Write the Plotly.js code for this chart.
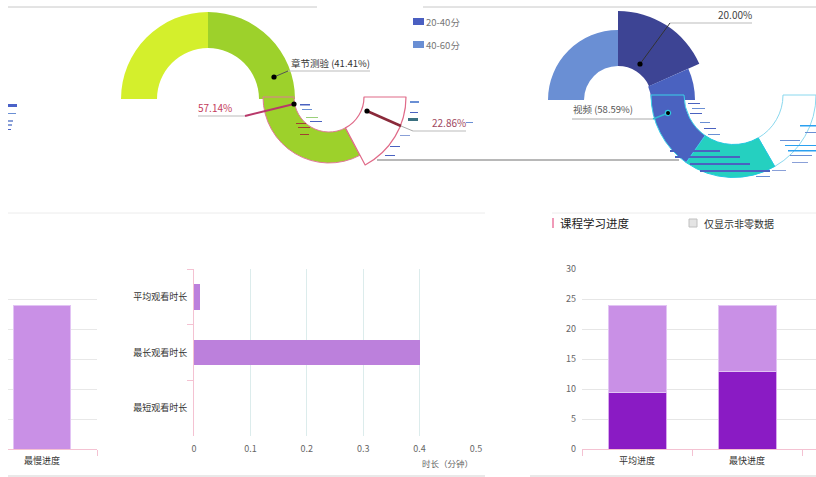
<!DOCTYPE html>
<html><head><meta charset="utf-8">
<script src="https://cdn.plot.ly/plotly-3.0.1.min.js"></script>
<style>html,body{margin:0;padding:0;background:#fff}#chart{width:816px;height:477px}</style>
</head><body><div id="chart"></div>
<script>
// ---------- data ----------
const progressCats = ['平均进度', '最快进度', '最慢进度'];
const progressDone = [9.5, 13, 0];
const progressRest = [14.5, 11, 24];
const watchCats = ['平均观看时长', '最长观看时长', '最短观看时长'];
const watchMinutes = [0.01, 0.4, 0];
// donut pieces (degrees of the ring each slice occupies; filler slices are transparent)
const donutTopLeft = [90, 90, 180];        // yellow-green, green, (empty)
const donutLowGreen = [118, 242];          // green, (empty)
const donutLowWhite = [62, 298];           // highlighted white slice, (empty)
const donutRightLight = [90, 270];         // 40-60分
const donutRightNavy = [66, 294];          // 20.00%
const donutRightBlue = [24, 336];          // 20-40分 upper part
const donutRightLow = [60, 65, 55, 180];   // white, teal, blue, (empty)
const legendLabels = ['20-40分', '40-60分'];

// ---------- helpers ----------
const W = 816, H = 477;
const px = x => x / W, py = y => 1 - y / H;
const dom = (cx, cy, r) => ({x: [px(cx - r), px(cx + r)], y: [py(cy + r), py(cy - r)]});
const T = 'rgba(0,0,0,0)';
function pie(values, colors, lines, cx, cy, r, inner, rot, lw) {
  return {type: 'pie', values: values, sort: false, direction: 'clockwise', rotation: rot,
    hole: inner / r, domain: dom(cx, cy, r), textinfo: 'none', hoverinfo: 'skip', showlegend: false,
    marker: {colors: colors, line: {color: lines, width: lw || 0}}};
}
const FONT = 'Noto Sans CJK SC, sans-serif';

const traces = [
  pie(donutTopLeft, ['#d4ef2c', '#9dd12b', T], [T, T, T], 208, 99, 87, 51, 270),
  pie(donutLowGreen, ['#9dd12b', T], ['#e07a98', T], 329, 97, 66, 35, 152, 1),
  pie(donutLowWhite, ['#ffffff', T], ['#e06a88', T], 329, 97, 77, 35, 90, 1.2),
  pie(donutRightLight, ['#6a8fd4', T], [T, T], 618, 100, 70, 34, 270),
  pie(donutRightNavy, ['#3d4494', T], [T, T], 618, 100, 89, 34, 0),
  pie(donutRightBlue, ['#4a62c0', T], [T, T], 618, 100, 77, 33, 66),
  pie(donutRightLow, ['#ffffff', '#25d0c0', '#4a62c0', T], ['#8ad8ee', '#22c8e0', '#3ad0e8', T], 736, 95, 85, 51, 90, 1),
  // left panel (wrapped third category)
  {type: 'bar', x: progressCats, y: progressDone, xaxis: 'x', yaxis: 'y', width: 0.527,
   marker: {color: '#8a1bc4', line: {color: '#d9a8ee', width: 1}}, hoverinfo: 'skip', showlegend: false},
  {type: 'bar', x: progressCats, y: progressRest, xaxis: 'x', yaxis: 'y', width: 0.527,
   marker: {color: '#c990e6', line: {color: '#e2c4f4', width: 1}}, hoverinfo: 'skip', showlegend: false},
  // middle horizontal bars
  {type: 'bar', orientation: 'h', y: watchCats, x: watchMinutes, xaxis: 'x2', yaxis: 'y2', width: 0.46,
   marker: {color: '#bc80dc', line: {width: 0}}, hoverinfo: 'skip', showlegend: false},
  // right stacked bars
  {type: 'bar', x: progressCats, y: progressDone, xaxis: 'x3', yaxis: 'y3', width: 0.527,
   marker: {color: '#8a1bc4', line: {color: '#d9a8ee', width: 1}}, hoverinfo: 'skip', showlegend: false},
  {type: 'bar', x: progressCats, y: progressRest, xaxis: 'x3', yaxis: 'y3', width: 0.527,
   marker: {color: '#c990e6', line: {color: '#e2c4f4', width: 1}}, hoverinfo: 'skip', showlegend: false}
];

function line(x0, y0, x1, y1, color, width) {
  return {type: 'line', xref: 'paper', yref: 'paper', x0: px(x0), y0: py(y0), x1: px(x1), y1: py(y1),
    line: {color: color, width: width || 1}, layer: 'above'};
}
function rect(x0, y0, x1, y1, fill, lc) {
  return {type: 'rect', xref: 'paper', yref: 'paper', x0: px(x0), y0: py(y0), x1: px(x1), y1: py(y1),
    fillcolor: fill, line: {color: lc || fill, width: lc ? 1 : 0}, layer: 'above'};
}
function dot(x, y, c, lc) {
  return {type: 'circle', xref: 'paper', yref: 'paper', x0: px(x - 2.6), y0: py(y + 2.6), x1: px(x + 2.6), y1: py(y - 2.6),
    fillcolor: c || '#000', line: {color: lc || '#000', width: lc ? 1.2 : 0}, layer: 'above'};
}

const shapes = [
  line(8, 7, 317, 7, '#c8c8c8'), line(423, 7, 816, 7, '#c8c8c8'),
  line(8, 213, 485, 213, '#ececec'), line(552, 213, 816, 213, '#ececec'),
  line(8, 476, 485, 476, '#e2e2e2', 1.5), line(530, 476, 816, 476, '#e2e2e2', 1.5),
  line(377, 160, 679, 160, '#a0a0a0', 1.5),
  // label leaders
  line(274, 77, 288, 71, '#555'), line(288, 71, 370, 71, '#bbbbbb'), dot(274, 77),
  line(198, 116, 245, 116, '#bbbbbb'), line(245, 116, 294, 104, '#b8386a', 2), dot(294, 104),
  line(367, 111, 401, 126, '#8a2a3a', 2.5), line(401, 126, 413, 131, '#aaaaaa'), line(413, 131, 466, 131, '#bbbbbb'), dot(367, 111),
  line(640, 64, 670, 23, '#333'), line(670, 23, 752, 23, '#bbbbbb'), dot(640, 64),
  line(572, 119, 653, 119, '#aaaaaa'), line(653, 119, 668, 113, '#30b8d0', 1.5), dot(668, 113, '#000', '#30c8e0'),
  // legends
  rect(413, 18, 424, 25, '#4a5fc1'), rect(413, 41, 424, 48, '#6a8fd4'),
  rect(552, 218, 554, 228, '#f09ab8'),
  rect(689, 219, 697, 227, '#e4e4e4', '#c0c0c0'),
  // rendering streak artefacts
  rect(8, 104, 17, 107, '#4a62c8'), rect(8, 113, 16, 114, '#6a8fd4'), rect(8, 120, 13, 122, '#8aa0d8'), rect(8, 124, 12, 126, '#8aa0d8'), rect(8, 129, 11, 130, '#4a62c8'),
  rect(300, 104, 310, 105.5, '#4a62c0'), rect(302, 109, 312, 110, '#6a8fd4'), rect(306, 117, 318, 118, '#9ad07a'), rect(310, 121, 322, 122, '#4a62c0'),
  rect(296, 123, 306, 124, '#a04030'), rect(298, 127, 310, 128, '#a04030'), rect(300, 134, 309, 135, '#a04030'),
  rect(410, 101, 419, 103, '#6a8fd4'), rect(410, 112, 418, 113, '#4a62c0'), rect(408, 118, 418, 121, '#3a7080'),
  rect(400, 135, 410, 136, '#8aa0d8'), rect(390, 146, 400, 147, '#4a62c0'), rect(385, 155, 395, 156, '#4a62c0'), rect(466, 122, 473, 123, '#6a8fd4'),
  rect(688, 103, 700, 104, '#4a62c0'), rect(692, 108, 705, 109, '#6a8fd4'), rect(690, 113, 702, 114, '#4a62c0'),
  rect(700, 122, 710, 123, '#6a8fd4'), rect(704, 128, 716, 129, '#4a62c0'), rect(708, 134, 720, 135, '#6a8fd4'),
  rect(670, 150, 720, 152, '#4a62c0'), rect(675, 156, 740, 158, '#4a62c0'), rect(690, 163, 750, 165, '#4a62c0'), rect(700, 170, 770, 172, '#4a62c0'),
  rect(780, 140, 800, 141, '#6a8fd4'), rect(785, 145, 816, 146, '#2aa0f0'), rect(788, 150, 816, 151.5, '#2aa0f0'), rect(790, 155, 812, 156, '#6a8fd4'), rect(792, 162, 808, 163, '#8aa0d8'),
  rect(800, 125, 816, 126.5, '#2aa0f0'), rect(805, 132, 816, 133, '#6a8fd4'),
  rect(756, 176, 770, 177, '#6a8fd4'), rect(772, 170, 786, 171, '#8aa0d8')
];

function ann(text, x, y, size, color, anchor) {
  return {text: text, xref: 'paper', yref: 'paper', x: px(x), y: py(y), xanchor: anchor || 'left', yanchor: 'middle',
    showarrow: false, font: {family: FONT, size: size, color: color}};
}
const annotations = [
  ann('章节测验 (41.41%)', 289, 63, 9.5, '#333'),
  ann('57.14%', 196, 107, 10, '#c43c5c'),
  ann('22.86%', 430, 122, 10, '#a04860'),
  ann('20.00%', 716, 15, 10, '#444'),
  ann('视频 (58.59%)', 571, 109, 9.5, '#555'),
  ann(legendLabels[0], 424, 22, 9.5, '#777'),
  ann(legendLabels[1], 424, 45, 9.5, '#777'),
  ann('课程学习进度', 558, 223, 11.5, '#222'),
  ann('仅显示非零数据', 702, 223, 10, '#333'),
  ann('时长（分钟）', 447, 463, 8.5, '#666', 'center')
];

const pink = '#f4c2d2';
const layout = {
  width: W, height: H, margin: {l: 0, r: 0, t: 0, b: 0}, paper_bgcolor: '#fff', plot_bgcolor: 'rgba(0,0,0,0)',
  font: {family: FONT, size: 9, color: '#333'}, showlegend: false, barmode: 'stack',
  xaxis: {domain: [px(8), px(97)], range: [1.691, 2.5], type: 'category', categoryarray: progressCats,
    showline: true, linecolor: pink, ticks: 'outside', tickson: 'boundaries', ticklen: 6, tickcolor: pink,
    ticklabelstandoff: 3, showgrid: false, tickfont: {size: 9, color: '#333'}, anchor: 'y'},
  yaxis: {domain: [py(449), py(269)], range: [0, 30], dtick: 5, showgrid: true, gridcolor: '#e8e8e8',
    showticklabels: false, zeroline: false, anchor: 'x'},
  xaxis2: {domain: [px(194), px(476)], range: [0, 0.5], dtick: 0.1, showgrid: true, gridcolor: '#dcecec',
    zeroline: false, showline: false, ticks: 'outside', ticklen: 4, tickcolor: T,
    tickfont: {size: 9, color: '#666'}, anchor: 'y2'},
  yaxis2: {domain: [py(436), py(269)], type: 'category', categoryarray: watchCats, range: [2.5, -0.5],
    showline: true, linecolor: pink, ticks: 'outside', tickson: 'boundaries', ticklen: 6, tickcolor: pink,
    ticklabelstandoff: 4, showgrid: false, tickfont: {size: 9, color: '#333'}, anchor: 'x2'},
  xaxis3: {domain: [px(582), 1], range: [-0.5, 1.627], type: 'category', categoryarray: progressCats,
    showline: true, linecolor: pink, ticks: 'outside', tickson: 'boundaries', ticklen: 6, tickcolor: pink,
    ticklabelstandoff: 3, showgrid: false, tickfont: {size: 9, color: '#333'}, anchor: 'y3'},
  yaxis3: {domain: [py(449), py(269)], range: [0, 30], dtick: 5, showgrid: true, gridcolor: '#e6e6e6',
    zeroline: false, ticklabelstandoff: 5, tickfont: {size: 9, color: '#666'}, anchor: 'x3'},
  shapes: shapes, annotations: annotations
};
Plotly.newPlot('chart', traces, layout, {staticPlot: true, displayModeBar: false});
</script></body></html>
